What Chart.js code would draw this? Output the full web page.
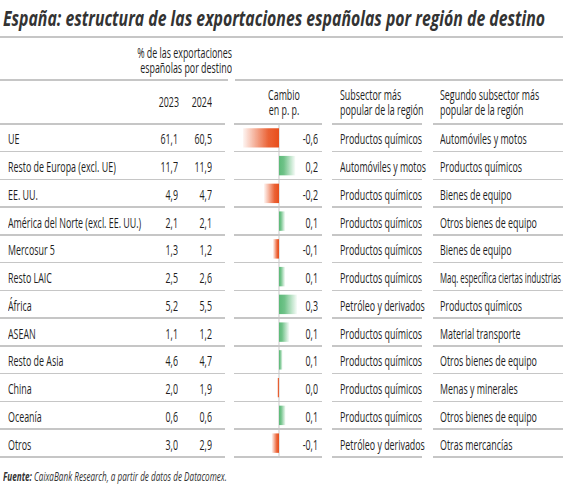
<!DOCTYPE html>
<html>
<head>
<meta charset="utf-8">
<script src="https://cdn.jsdelivr.net/npm/chart.js@4.4.0/dist/chart.umd.min.js"></script>
<style>
  html, body { margin: 0; padding: 0; background: #fff; }
  body { width: 563px; height: 495px; position: relative; overflow: hidden;
         font-family: "Open Sans", sans-serif; color: #1e1e1e; }
  .t { position: absolute; white-space: nowrap; font-size: 14px; line-height: 15px; }
  .ln { position: absolute; height: 1.5px; background: #c6c6c6; }
  #grafico { position: absolute; left: 234px; top: 124px; width: 88px; height: 333px; }
</style>
</head>
<body>
<div id="tabla"></div>
<div id="grafico"><canvas id="cambio"></canvas></div>

<script>
// Datos de la tabla
const titulo = 'España: estructura de las exportaciones españolas por región de destino';
const regiones = ['UE', 'Resto de Europa (excl. UE)', 'EE. UU.', 'América del Norte (excl. EE. UU.)',
  'Mercosur 5', 'Resto LAIC', 'África', 'ASEAN', 'Resto de Asia', 'China', 'Oceanía', 'Otros'];
const valores2023 = ['61,1', '11,7', '4,9', '2,1', '1,3', '2,5', '5,2', '1,1', '4,6', '2,0', '0,6', '3,0'];
const valores2024 = ['60,5', '11,9', '4,7', '2,1', '1,2', '2,6', '5,5', '1,2', '4,7', '1,9', '0,6', '2,9'];
const cambioTexto = ['-0,6', '0,2', '-0,2', '0,1', '-0,1', '0,1', '0,3', '0,1', '0,1', '0,0', '0,1', '-0,1'];
// longitud de las barras (p. p.)
const cambioBarra = [-0.6, 0.27, -0.25, 0.1, -0.1, 0.1, 0.3, 0.17, 0.06, -0.03, 0.11, -0.12];
const subsector1 = ['Productos químicos', 'Automóviles y motos', 'Productos químicos', 'Productos químicos',
  'Productos químicos', 'Productos químicos', 'Petróleo y derivados', 'Productos químicos',
  'Productos químicos', 'Productos químicos', 'Productos químicos', 'Petróleo y derivados'];
const subsector2 = ['Automóviles y motos', 'Productos químicos', 'Bienes de equipo', 'Otros bienes de equipo',
  'Bienes de equipo', 'Maq. específica ciertas industrias', 'Productos químicos', 'Material transporte',
  'Otros bienes de equipo', 'Menas y minerales', 'Otros bienes de equipo', 'Otras mercancías'];

const tabla = document.getElementById('tabla');
const filaAlto = 27.75;
const filaTop = 124;

// La fuente original es muy estrecha: se comprime horizontalmente
const medidor = document.createElement('canvas').getContext('2d');
function medir(str, font) {
  medidor.font = font;
  return medidor.measureText(str).width;
}
const fuenteBase = '14px "Open Sans"';
const escala = (109 + 132) / (medir(regiones[1], fuenteBase) + medir(regiones[3], fuenteBase));

function texto(str, x, y, alinea, opciones) {
  const o = opciones || {};
  const d = document.createElement('div');
  d.className = 't';
  if (o.html) d.innerHTML = o.html; else d.textContent = str;
  if (o.size) { d.style.fontSize = o.size + 'px'; d.style.lineHeight = (o.size + 4) + 'px'; }
  if (o.bold) d.style.fontWeight = 'bold';
  if (o.italic) d.style.fontStyle = 'italic';
  if (o.color) d.style.color = o.color;
  let k = o.escala || escala;
  if (o.maxAncho) k = Math.min(k, o.maxAncho / medir(str, fuenteBase));
  d.style.top = (y - (o.size ? (o.size + 4) / 2 : 7.5)) + 'px';
  d.style.transform = 'scaleX(' + k + ')';
  if (alinea === 'r') {
    d.style.left = (x - 300) + 'px'; d.style.width = '300px'; d.style.textAlign = 'right';
    d.style.transformOrigin = 'right center';
  } else if (alinea === 'c') {
    d.style.left = (x - 60) + 'px'; d.style.width = '120px'; d.style.textAlign = 'center';
    d.style.transformOrigin = 'center center';
  } else {
    d.style.left = x + 'px';
    d.style.transformOrigin = 'left center';
  }
  tabla.appendChild(d);
}

function linea(x1, x2, y, alto) {
  const d = document.createElement('div');
  d.className = 'ln';
  d.style.left = x1 + 'px';
  d.style.width = (x2 - x1) + 'px';
  d.style.top = y + 'px';
  if (alto) d.style.height = alto + 'px';
  tabla.appendChild(d);
}

// Título y fuente
texto(titulo, 3, 18, 'l', { size: 21, bold: true, italic: true, color: '#333',
  escala: 542 / medir(titulo, 'italic bold 21px "Open Sans"') });
const fuente = 'Fuente: CaixaBank Research, a partir de datos de Datacomex.';
texto('', 3, 477, 'l', { size: 12, italic: true, color: '#333',
  html: '<b>Fuente:</b> CaixaBank Research, a partir de datos de Datacomex.',
  escala: 221 / medir(fuente, 'italic 12px "Open Sans"') });

// Líneas de cabecera
linea(0, 563, 36, 2);
linea(0, 228, 79);
linea(235, 563, 79);
const segmentos = [[0, 225], [234, 322], [332, 422], [433, 563]];
segmentos.forEach(s => linea(s[0], s[1], filaTop - 1));

// Cabeceras
texto('% de las exportaciones', 232, 52, 'r');
texto('españolas por destino', 232, 67, 'r');
texto('2023', 179, 101, 'r');
texto('2024', 212, 101, 'r');
texto('Cambio', 284, 94, 'c');
texto('en p. p.', 284, 109, 'c');
texto('Subsector más', 340, 94);
texto('popular de la región', 340, 109);
texto('Segundo subsector más', 440, 94);
texto('popular de la región', 440, 109);

regiones.forEach((reg, i) => {
  const y = filaTop + filaAlto * (i + 0.5) + 1;
  texto(reg, 8, y);
  texto(valores2023[i], 178, y, 'r');
  texto(valores2024[i], 212, y, 'r');
  texto(cambioTexto[i], 318, y, 'r');
  texto(subsector1[i], 340, y, 'l', { maxAncho: 86 });
  texto(subsector2[i], 440, y, 'l', { maxAncho: 121 });
  segmentos.forEach(s => linea(s[0], s[1], filaTop + filaAlto * (i + 1) - 1));
});

// Gradiente de cada barra: intenso junto al cero, se desvanece hacia el extremo
function colorBarra(context) {
  const chart = context.chart;
  const v = context.raw;
  const base = v < 0 ? [232, 78, 27] : [92, 186, 120];
  const xs = chart.scales.x;
  if (!chart.chartArea || !xs) return `rgb(${base.join(',')})`;
  const x0 = xs.getPixelForValue(0);
  const x1 = xs.getPixelForValue(v);
  if (Math.abs(x1 - x0) < 1) return `rgb(${base.join(',')})`;
  const g = chart.ctx.createLinearGradient(x0, 0, x1, 0);
  g.addColorStop(0, `rgba(${base.join(',')},1)`);
  g.addColorStop(0.3, `rgba(${base.join(',')},0.88)`);
  g.addColorStop(1, `rgba(${base.join(',')},0.05)`);
  return g;
}

const lineaCero = {
  id: 'lineaCero',
  beforeDatasetsDraw(chart) {
    const ctx = chart.ctx;
    const x = chart.scales.x.getPixelForValue(0);
    ctx.save();
    ctx.strokeStyle = '#c8c8c8';
    ctx.lineWidth = 1;
    ctx.beginPath();
    ctx.moveTo(x, chart.chartArea.top);
    ctx.lineTo(x, chart.chartArea.bottom);
    ctx.stroke();
    ctx.restore();
  }
};

new Chart(document.getElementById('cambio').getContext('2d'), {
  type: 'bar',
  data: {
    labels: regiones,
    datasets: [{
      data: cambioBarra,
      backgroundColor: colorBarra,
      borderWidth: 0,
      categoryPercentage: 1,
      barPercentage: 0.7
    }]
  },
  options: {
    indexAxis: 'y',
    responsive: true,
    maintainAspectRatio: false,
    animation: false,
    layout: { padding: 0 },
    scales: {
      x: { display: false, min: -0.75, max: 0.7167 },
      y: { display: false }
    },
    plugins: { legend: { display: false }, tooltip: { enabled: false } }
  },
  plugins: [lineaCero]
});
</script>
</body>
</html>
